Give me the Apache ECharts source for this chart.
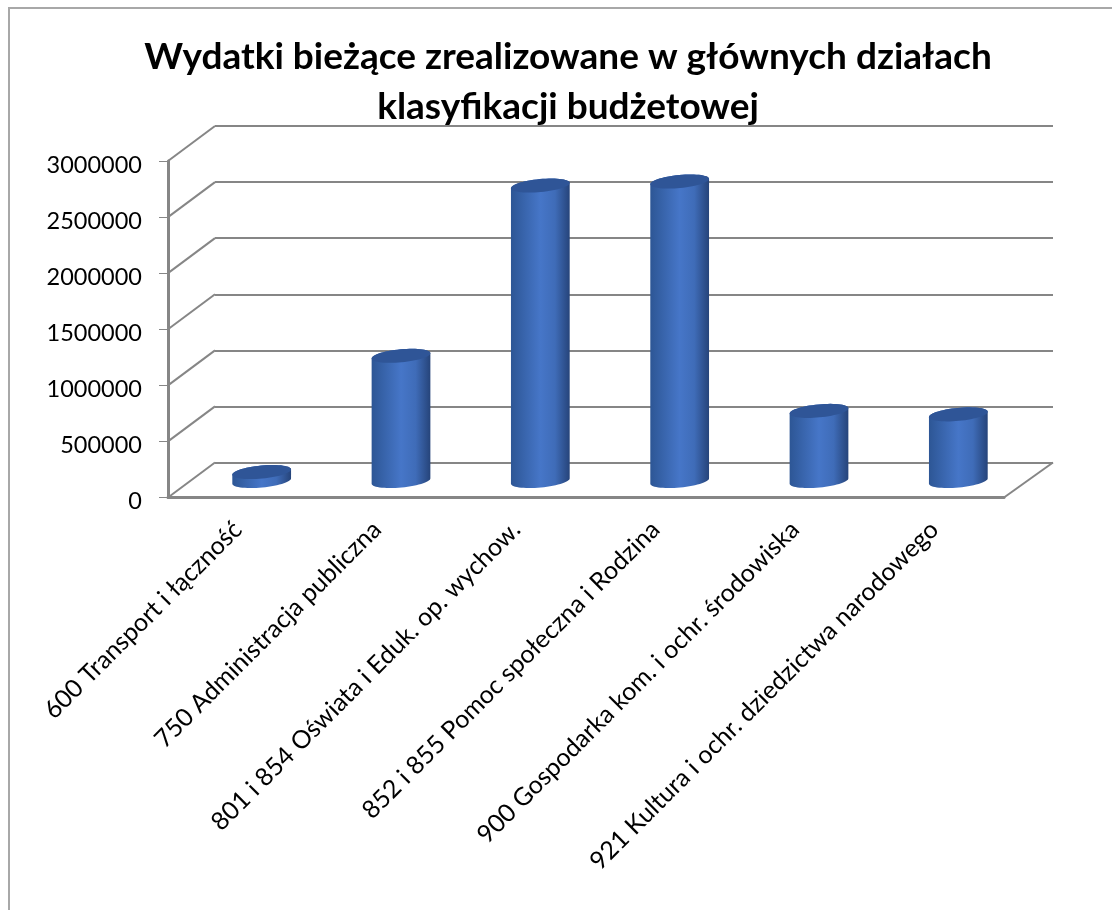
<!DOCTYPE html>
<html>
<head>
<meta charset="utf-8">
<style>
  html, body { margin: 0; padding: 0; background: #fff; }
  #chart { width: 1112px; height: 910px; }
</style>
<script src="https://cdn.jsdelivr.net/npm/echarts@6/dist/echarts.min.js"></script>
</head>
<body>
<div id="chart"></div>
<script>
const titleText = 'Wydatki bieżące zrealizowane w głównych działach\nklasyfikacji budżetowej';
const categories = [
    '600 Transport i łączność',
    '750 Administracja publiczna',
    '801 i 854 Oświata i Eduk. op. wychow.',
    '852 i 855 Pomoc społeczna i Rodzina',
    '900 Gospodarka kom. i ochr. środowiska',
    '921 Kultura i ochr. dziedzictwa narodowego'
];
const values = [80000, 1116000, 2634000, 2670000, 625000, 594000];
const yTicks = [0, 500000, 1000000, 1500000, 2000000, 2500000, 3000000];

const FONT = 'Lato, "Noto Sans", sans-serif';
const LINE = '#868686';
// przesunięcie tylnej ściany względem osi (rzut 3D)
const DEPTH_X = 47;
const DEPTH_Y = -35;
// środek podstawy walca względem środka kategorii na osi
const BAR_DX = 24;
const BAR_DY = -16.5;
const RX = 29.5;
const RY = 6.5;
const TILT = 5.4 * Math.PI / 180;

// punkty pochylonej elipsy, od kąta a0 do a1
const ellipsePoints = (cx, cy, a0, a1) => {
    const pts = [];
    for (let a = a0; a <= a1; a += 6) {
        const t = a * Math.PI / 180;
        const ex = RX * Math.cos(t);
        const ey = RY * Math.sin(t);
        pts.push([cx + ex * Math.cos(TILT) + ey * Math.sin(TILT), cy - ex * Math.sin(TILT) + ey * Math.cos(TILT)]);
    }
    return pts;
};

const renderCylinder = (params, api) => {
    const base = api.coord([api.value(0), 0]);
    const top = api.coord([api.value(0), api.value(1)]);
    const cx = base[0] + BAR_DX;
    const baseY = base[1] + BAR_DY;
    const topY = top[1] + BAR_DY;
    const bottomArc = ellipsePoints(cx, baseY, 0, 180);
    const topArc = ellipsePoints(cx, topY, 180, 360);
    return {
        type: 'group',
        children: [
            {
                type: 'polygon',
                shape: { points: bottomArc.concat(topArc) },
                style: {
                    fill: new echarts.graphic.LinearGradient(0, 0, 1, 0, [
                        { offset: 0, color: '#2d5695' },
                        { offset: 0.5, color: '#4676c8' },
                        { offset: 0.75, color: '#3f6cb8' },
                        { offset: 1, color: '#26447a' }
                    ])
                }
            },
            {
                type: 'polygon',
                shape: { points: ellipsePoints(cx, topY, 0, 360) },
                style: { fill: '#2f5597' }
            }
        ]
    };
};

// skośne linie od osi Y do tylnej ściany
const renderDepthLine = (params, api) => {
    const rect = params.coordSys;
    const y = api.coord([0, api.value(0)])[1];
    return {
        type: 'line',
        shape: { x1: rect.x, y1: y, x2: rect.x + DEPTH_X, y2: y + DEPTH_Y },
        style: { stroke: LINE, lineWidth: 2 }
    };
};

const renderFloorEdge = (params, api) => {
    const rect = params.coordSys;
    const y = api.coord([0, 0])[1];
    return {
        type: 'line',
        shape: { x1: rect.x + rect.width, y1: y, x2: rect.x + rect.width + DEPTH_X + 2, y2: y + DEPTH_Y },
        style: { stroke: LINE, lineWidth: 2 }
    };
};

const chart = echarts.init(document.getElementById('chart'), null, { renderer: 'canvas' });

chart.setOption({
    animation: false,
    backgroundColor: '#fff',
    title: {
        text: titleText,
        left: 563,
        top: 27,
        textAlign: 'center',
        textStyle: { fontFamily: FONT, fontWeight: 'bold', fontSize: 37, lineHeight: 50, color: '#000' }
    },
    graphic: [
        {
            type: 'rect',
            shape: { x: 9, y: 8, width: 1200, height: 1000 },
            style: { fill: 'none', stroke: '#a8a8a8', lineWidth: 2 },
            silent: true
        }
    ],
    grid: [
        { left: 168, right: 108, top: 161, bottom: 412.5 },
        { left: 168 + DEPTH_X, right: 108 - DEPTH_X - 2, top: 161 + DEPTH_Y, bottom: 412.5 - DEPTH_Y }
    ],
    xAxis: [
        {
            type: 'category',
            gridIndex: 0,
            data: categories,
            axisLine: { lineStyle: { color: LINE, width: 3 } },
            axisTick: { length: 9, lineStyle: { color: LINE, width: 1 } },
            axisLabel: { interval: 0, rotate: 45, margin: 28, fontFamily: FONT, fontSize: 25, color: '#000' }
        },
        {
            type: 'category',
            gridIndex: 1,
            data: categories,
            axisLine: { show: false },
            axisTick: { show: false },
            axisLabel: { show: false }
        }
    ],
    yAxis: [
        {
            type: 'value',
            gridIndex: 0,
            min: 0,
            max: 3000000,
            interval: 500000,
            axisLine: { show: true, lineStyle: { color: LINE, width: 3 } },
            axisTick: { show: true, length: 9, lineStyle: { color: LINE, width: 1 } },
            splitLine: { show: false },
            axisLabel: {
                margin: 26,
                verticalAlign: 'top',
                lineHeight: 8,
                fontFamily: FONT,
                fontSize: 23.5,
                color: '#000',
                formatter: v => String(v)
            }
        },
        {
            type: 'value',
            gridIndex: 1,
            min: 0,
            max: 3000000,
            interval: 500000,
            axisLine: { show: false },
            axisTick: { show: false },
            axisLabel: { show: false },
            splitLine: { show: true, lineStyle: { color: LINE, width: 2 } }
        }
    ],
    series: [
        {
            type: 'custom',
            xAxisIndex: 0,
            yAxisIndex: 0,
            clip: false,
            silent: true,
            data: yTicks.map(v => [v]),
            encode: { y: 0 },
            renderItem: renderDepthLine
        },
        {
            type: 'custom',
            xAxisIndex: 0,
            yAxisIndex: 0,
            clip: false,
            silent: true,
            data: [[0]],
            encode: { y: 0 },
            renderItem: renderFloorEdge
        },
        {
            type: 'custom',
            xAxisIndex: 0,
            yAxisIndex: 0,
            clip: false,
            silent: true,
            z: 5,
            data: values.map((v, i) => [i, v]),
            encode: { x: 0, y: 1 },
            renderItem: renderCylinder
        }
    ]
});
</script>
</body>
</html>
